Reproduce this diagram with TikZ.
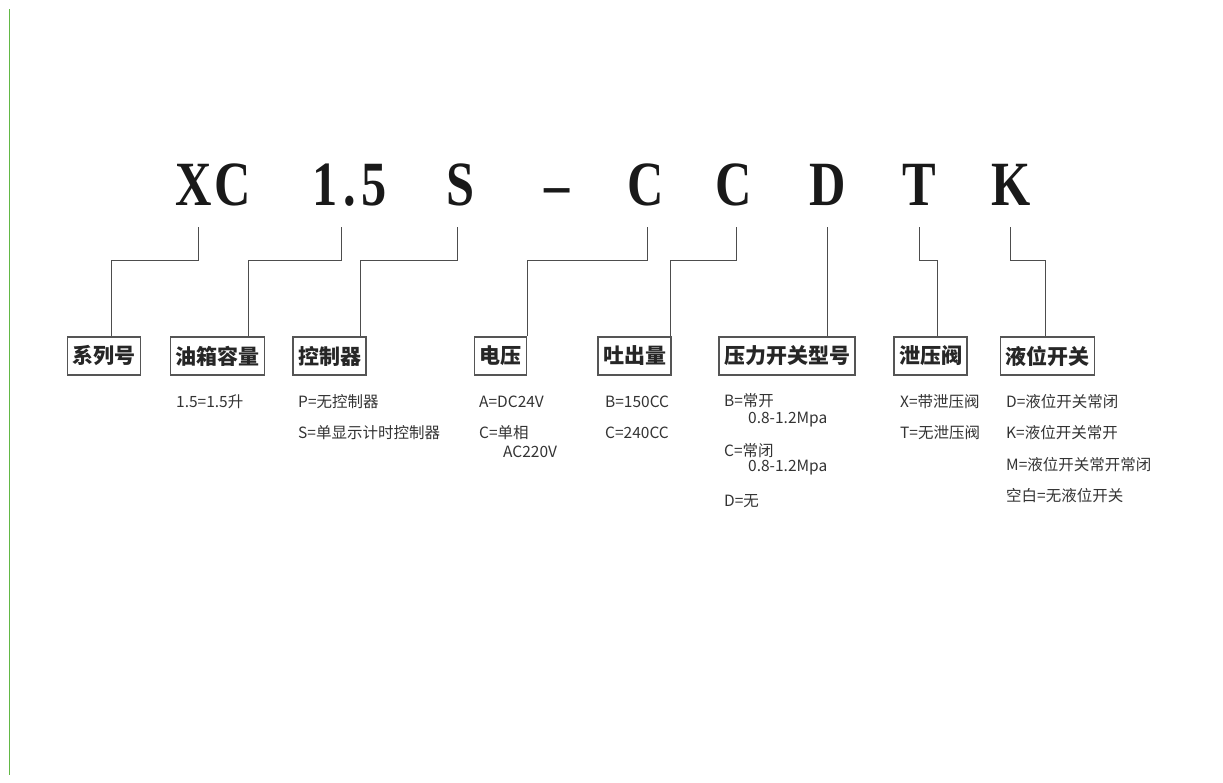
\documentclass[tikz,border=0pt]{standalone}
\usepackage{fontspec}
\setmainfont{Liberation Serif}
\newfontfamily\cjk{Noto Sans CJK SC}
\newcommand{\hsq}[1]{\scalebox{0.8}[1]{#1}}
\definecolor{linegray}{HTML}{4D4D4D}
\definecolor{boxgray}{HTML}{555555}
\definecolor{txtgray}{HTML}{333333}
\definecolor{edgegreen}{HTML}{62B845}
\begin{document}
\begin{tikzpicture}[x=1pt,y=-1pt,
  letter/.style={font=\bfseries\fontsize{63}{63}\selectfont, text=black!90, inner sep=0pt, anchor=base},
  lbox/.style={draw=boxgray, line width=1.2pt, font=\cjk\bfseries\fontsize{21}{21}\selectfont, text=black!85, inner xsep=5pt, inner ysep=0pt, minimum height=38pt},
  desc/.style={font=\cjk\fontsize{15.5}{15.5}\selectfont, text=txtgray, inner sep=0pt, anchor=west},
  conn/.style={draw=linegray, line width=1pt}]
\useasboundingbox (0,0) rectangle (1223,782);
\draw[edgegreen, line width=1.5pt] (9.5,9) -- (9.5,775);

% code letters
\node[letter] (XC) at (213,205) {\hsq{X\kern3pt C}};
\node[letter] (N15) at (349.5,205) {\hsq{1\kern7pt.\kern7pt5}};
\node[letter] (S) at (461,205) {\hsq{S}};
\node[letter] (DASH) at (557,205) {\hsq{--}};
\node[letter] (C1) at (646,205) {\hsq{C}};
\node[letter] (C2) at (733.5,205) {\hsq{C}};
\node[letter] (D) at (828,205) {\hsq{D}};
\node[letter] (T) at (919,205) {\hsq{T}};
\node[letter] (K) at (1011.5,205) {\hsq{K}};

% label boxes
\node[lbox] (b1) at (104,356) {系列号};
\node[lbox] (b2) at (217.5,356) {油箱容量};
\node[lbox] (b3) at (329.5,356) {控制器};
\node[lbox] (b4) at (500.5,356) {电压};
\node[lbox] (b5) at (634.5,356) {吐出量};
\node[lbox] (b6) at (787,356) {压力开关型号};
\node[lbox] (b7) at (930.5,356) {泄压阀};
\node[lbox] (b8) at (1047.5,356) {液位开关};

% connector coordinates
\coordinate (t1) at (198,227); \coordinate (j1) at (111,260);
\coordinate (t2) at (341,227); \coordinate (j2) at (248,260);
\coordinate (t3) at (457,227); \coordinate (j3) at (360,260);
\coordinate (t4) at (647,227); \coordinate (j4) at (527.5,260);
\coordinate (t5) at (736,227); \coordinate (j5) at (670.5,260);
\coordinate (t6) at (827,227);
\coordinate (t7) at (919,227); \coordinate (j7) at (937,260);
\coordinate (t8) at (1010,227); \coordinate (j8) at (1045,260);

\draw[conn] (t1) |- (j1) -- (j1 |- b1.north);
\draw[conn] (t2) |- (j2) -- (j2 |- b2.north);
\draw[conn] (t3) |- (j3) -- (j3 |- b3.north);
\draw[conn] (t4) |- (j4) -- (j4 |- b4.north);
\draw[conn] (t5) |- (j5) -- (j5 |- b5.north);
\draw[conn] (t6) -- (t6 |- b6.north);
\draw[conn] (t7) |- (j7) -- (j7 |- b7.north);
\draw[conn] (t8) |- (j8) -- (j8 |- b8.north);

% descriptions
\node[desc] (d21) at (176,402) {1.5=1.5升};
\node[desc] (d31) at (298,402) {P=无控制器};
\node[desc] (d32) at (298,433) {S=单显示计时控制器};
\node[desc] (d41) at (479,402) {A=DC24V};
\node[desc] (d42) at (479,433) {C=单相};
\node[desc] (d43) at (503,452) {AC220V};
\node[desc] (d51) at (605,402) {B=150CC};
\node[desc] (d52) at (605,433) {C=240CC};
\node[desc] (d61) at (724,401) {B=常开};
\node[desc] (d62) at (748,420) {0.8-1.2Mpa};
\node[desc] (d63) at (724,451) {C=常闭};
\node[desc] (d64) at (748,468) {0.8-1.2Mpa};
\node[desc] (d65) at (724,501) {D=无};
\node[desc] (d71) at (900,402) {X=带泄压阀};
\node[desc] (d72) at (900,433) {T=无泄压阀};
\node[desc] (d81) at (1006,402) {D=液位开关常闭};
\node[desc] (d82) at (1006,433) {K=液位开关常开};
\node[desc] (d83) at (1006,465) {M=液位开关常开常闭};
\node[desc] (d84) at (1006,496) {空白=无液位开关};
\end{tikzpicture}
\end{document}
